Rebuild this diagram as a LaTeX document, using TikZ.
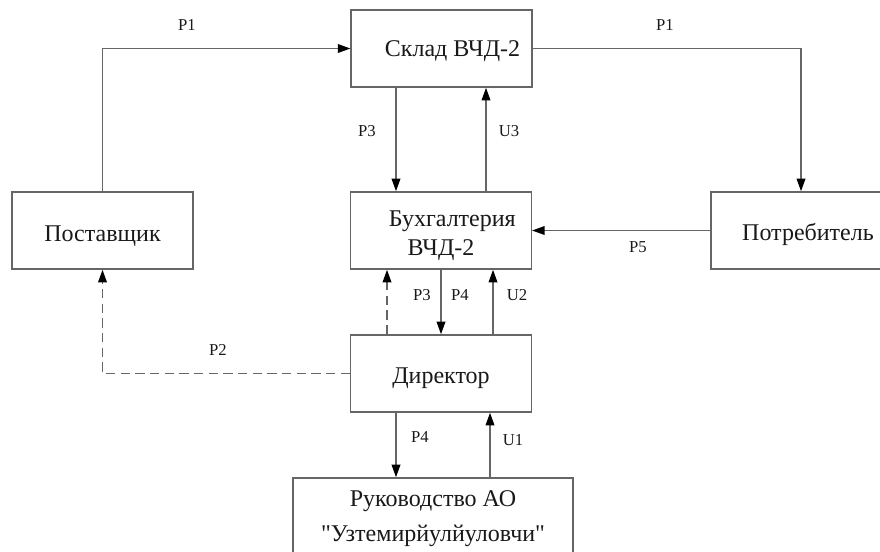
\documentclass[tikz,border=0pt]{standalone}
\usepackage{fontspec}
\setmainfont{Liberation Serif}[Ligatures=TeXOff]
\usetikzlibrary{arrows.meta,calc}
\begin{document}
\begin{tikzpicture}[x=0.75pt,y=-0.75pt,
  box/.style={draw=black!60,line width=1.1pt,inner sep=0pt,
    minimum width=135.5pt,minimum height=57.75pt},
  btext/.style={inner sep=0pt,align=center,text=black!90,
    font=\fontsize{18}{21.75}\selectfont},
  lbl/.style={inner sep=0pt,text=black!90,font=\fontsize{12.5}{14}\selectfont},
  arr/.style={draw=black!60,line width=1.2pt,-{Triangle[length=9.5pt,width=6.5pt,fill=black,color=black]}},
  darr/.style={arr,dash pattern=on 7pt off 4pt}]
\useasboundingbox (0,0) rectangle (880,551);
\fill[white] (0,0) rectangle (880,551);
\begin{scope}
\clip (0,0) rectangle (880,551);
\node[box,label={[btext,yshift=-2.25pt]center:\hspace*{16.5pt}Склад ВЧД-2}] (sklad) at (441.5,48.5) {};
\node[box,label={[btext,yshift=-3.75pt]center:\hspace*{17pt}Бухгалтерия\\ВЧД-2}] (buh) at (441,230.5) {};
\node[box,label={[btext,yshift=-3.75pt]center:Директор}] (dir) at (441,373.5) {};
\node[box,label={[btext,yshift=-4.5pt]center:Поставщик}] (sup) at (102.5,230.5) {};
\node[box,minimum width=145.5pt,label={[btext,yshift=-3pt]center:Потребитель}] (cons) at (808,230.5) {};
\node[box,minimum width=210pt,label={[btext,font=\fontsize{18}{26}\selectfont,yshift=-1.5pt]center:Руководство АО\\"Узтемирйулйуловчи"}] (ruk) at (433,516.5) {};

\draw[arr] (sup.north) |- (sklad.west);
\draw[arr] (sklad.east) -| ($(cons.north)+(-7,0)$);
\draw[arr] ($(sklad.south)+(-45.5,0)$) coordinate (p3a) -- (p3a |- buh.north);
\draw[arr] ($(buh.north)+(45,0)$) coordinate (u3a) -- (u3a |- sklad.south);
\draw[arr] (cons.west) -- (buh.east);
\draw[darr] ($(dir.north)+(-54,0)$) coordinate (da) -- (da |- buh.south);
\draw[arr] (buh.south) -- (dir.north);
\draw[arr] ($(dir.north)+(52,0)$) coordinate (u2a) -- (u2a |- buh.south);
\draw[darr] (dir.west) -| (sup.south);
\draw[arr] ($(dir.south)+(-45,0)$) coordinate (p4a) -- (p4a |- ruk.north);
\draw[arr] ($(ruk.north)+(57,0)$) coordinate (u1a) -- (u1a |- dir.south);
\end{scope}

\node[lbl] (l1) at (187,25) {P1};
\node[lbl] (l2) at (665,25) {P1};
\node[lbl] (l3) at (367,131) {P3};
\node[lbl] (l4) at (509,131) {U3};
\node[lbl] (l5) at (638,247) {P5};
\node[lbl] (l6) at (422,295) {P3};
\node[lbl] (l7) at (460,295) {P4};
\node[lbl] (l8) at (517,295) {U2};
\node[lbl] (l9) at (218,350) {P2};
\node[lbl] (l10) at (420,437) {P4};
\node[lbl] (l11) at (513,440) {U1};
\end{tikzpicture}
\end{document}
